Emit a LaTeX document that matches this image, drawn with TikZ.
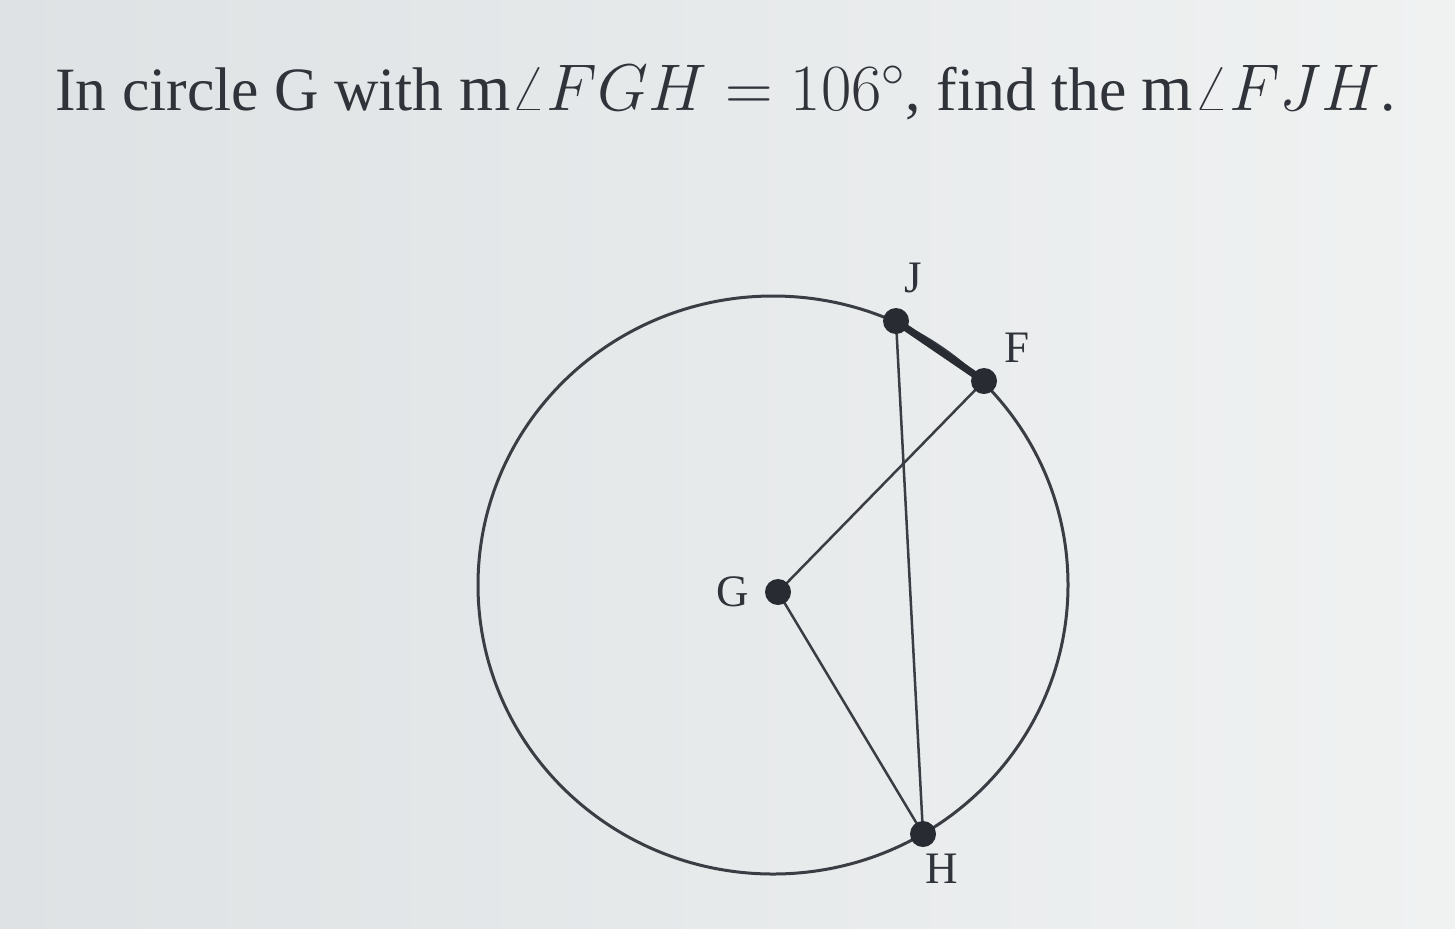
\RequirePackage{fix-cm}
\documentclass[tikz,border=0pt]{standalone}
\usepackage{fontspec}
\setmainfont{Liberation Serif}
\definecolor{bgL}{RGB}{222,226,228}
\definecolor{bgR}{RGB}{240,242,242}
\definecolor{ink}{RGB}{48,52,58}
\definecolor{linec}{RGB}{58,62,68}
\definecolor{dotc}{RGB}{40,44,50}
\tikzset{
  circ/.style={draw=linec, line width=1.5pt},
  thin line/.style={draw=linec, line width=1.25pt},
  thick chord/.style={draw=dotc, line width=3.6pt},
  dot/.style={circle, fill=dotc, inner sep=0pt, minimum size=13pt},
  lab/.style={text=ink, inner sep=0pt, font=\fontsize{22.5}{26}\selectfont}
}
\begin{document}
\begin{tikzpicture}[x=0.5pt,y=-0.5pt]
\shade[left color=bgL,right color=bgR] (0,0) rectangle (1455,928);
\useasboundingbox (0,0) rectangle (1455,928);
\node[anchor=base west, inner sep=0pt, text=ink, font=\fontsize{30.8}{36}\selectfont] (title) at (55,110)
  {In circle G with {\fontsize{33}{38}\selectfont$\mathrm{m}\angle FGH = 106^\circ$}, find the {\fontsize{33}{38}\selectfont$\mathrm{m}\angle FJH$}.};
\coordinate (c) at (773,585);
\coordinate (pJ) at (896,321);
\coordinate (pF) at (984,381);
\coordinate (pH) at (923,834);
\coordinate (pG) at (778,592);
\draw[circ] (c) ellipse [x radius=295, y radius=289];
\draw[thin line] (pJ) -- (pH);
\draw[thin line] (pG) -- (pF);
\draw[thin line] (pG) -- (pH);
\draw[thick chord] (pJ) -- (pF);
\node[dot] (J) at (pJ) {};
\node[dot] (F) at (pF) {};
\node[dot] (G) at (pG) {};
\node[dot] (H) at (pH) {};
\node[lab] (lJ) at (913,278) {J};
\node[lab] (lF) at (1017,348) {F};
\node[lab] (lG) at (733,592) {G};
\node[lab] (lH) at (942,869) {H};
\end{tikzpicture}
\end{document}
